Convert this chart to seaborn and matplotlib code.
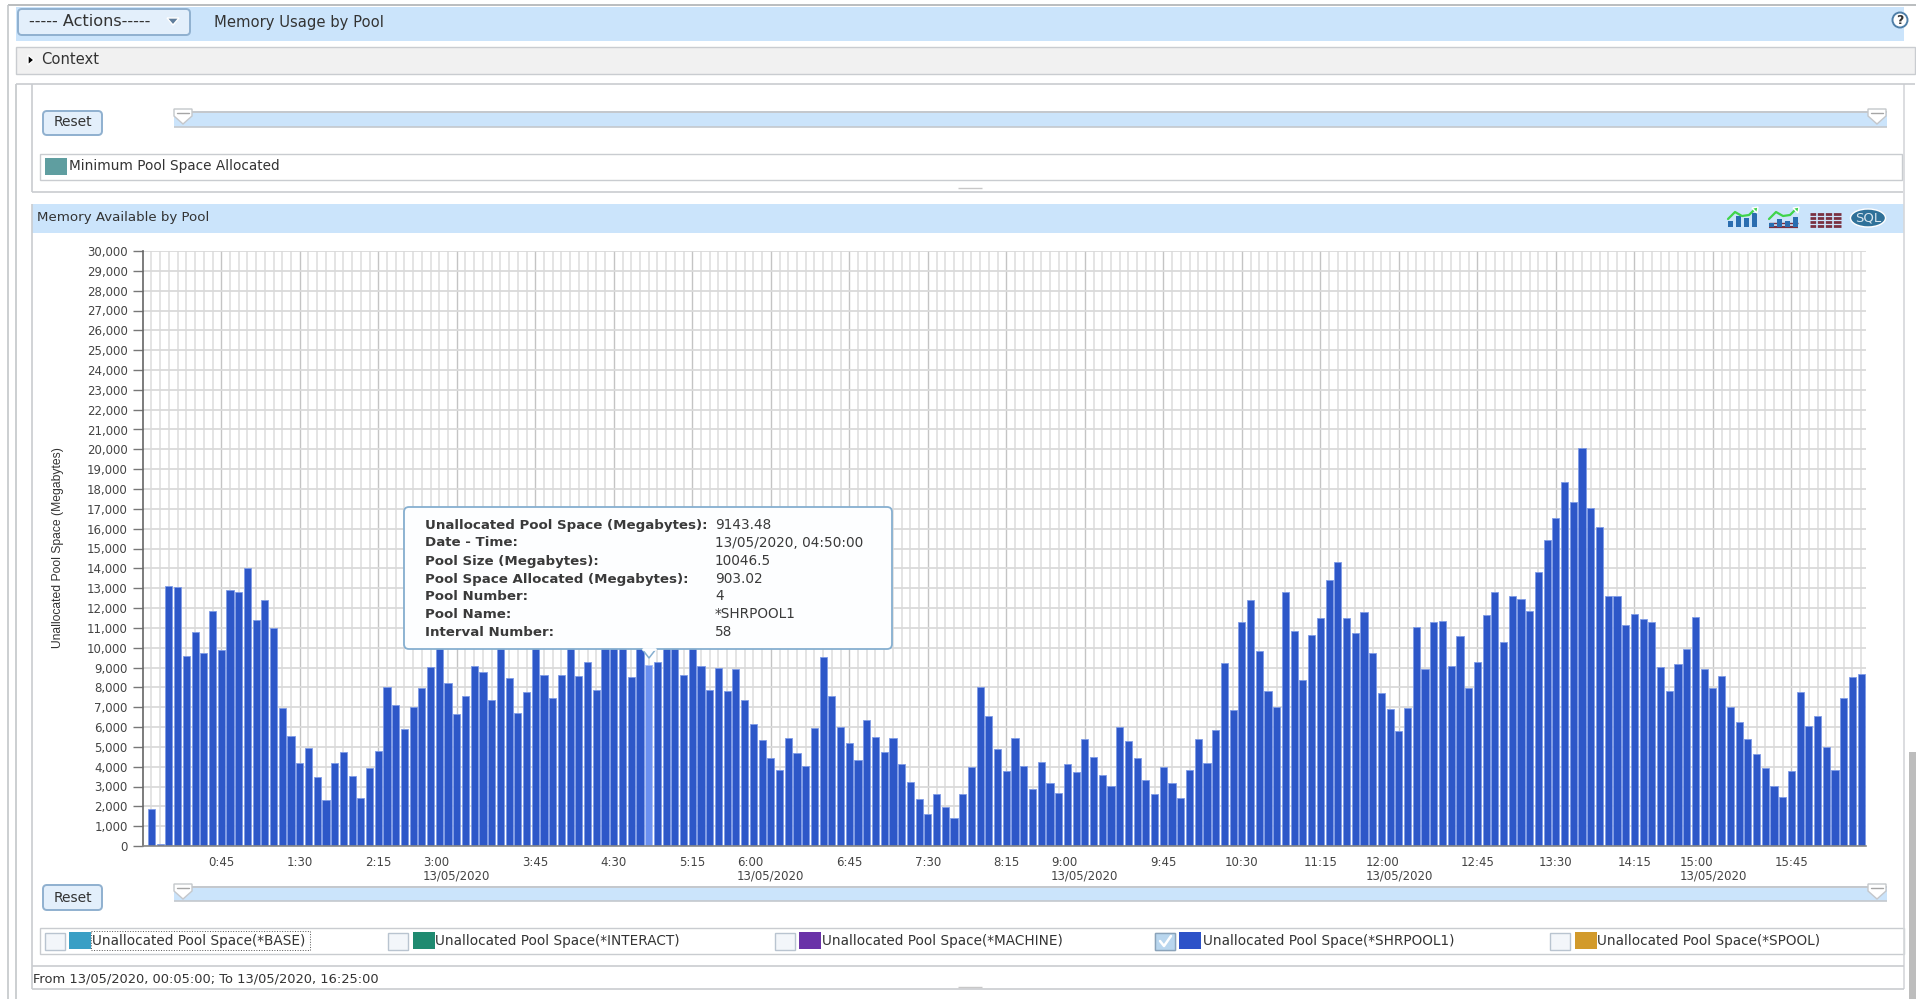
import matplotlib
matplotlib.use('Agg')
import matplotlib.pyplot as plt
from matplotlib.patches import Rectangle, FancyBboxPatch, Polygon, Ellipse, Circle
import pandas as pd
import seaborn as sns

# interval 1 = 00:05, one bar every 5 minutes up to 16:25
unallocated = [
    1880, 120, 13130, 13060, 9560, 10770, 9730, 11870, 9900, 12920,
    12820, 14020, 11400, 12400, 10970, 6970, 5560, 4180, 4920, 3460,
    2340, 4200, 4760, 3510, 2440, 3920, 4770, 8030, 7110, 5900,
    7010, 7980, 9040, 10200, 8220, 6650, 7560, 9080, 8760, 7380,
    10300, 8470, 6720, 7780, 10200, 8600, 7480, 8640, 10100, 8590,
    9280, 7870, 10400, 10600, 10300, 8520, 10100, 9143.48, 9300, 10300,
    10100, 8600, 10100, 9060, 7880, 8990, 7810, 8920, 7340, 6170,
    5330, 4450, 3810, 5460, 4700, 4030, 5970, 9530, 7580, 6020,
    5210, 4340, 6370, 5510, 4740, 5460, 4130, 3210, 2350, 1610,
    2600, 1950, 1430, 2600, 3980, 8030, 6550, 4870, 3800, 5460,
    4020, 2890, 4240, 3180, 2670, 4120, 3710, 5380, 4470, 3580,
    3040, 5980, 5310, 4420, 3310, 2600, 4000, 3190, 2420, 3850,
    5380, 4180, 5830, 9230, 6860, 11280, 12390, 9830, 7810, 6990,
    12810, 10820, 8350, 10620, 11510, 13430, 14320, 11500, 10720, 11780,
    9750, 7730, 6890, 5780, 6940, 11030, 8910, 11290, 11360, 9080,
    10570, 7970, 9260, 11630, 12820, 10270, 12620, 12470, 11850, 13800,
    15430, 16550, 18350, 17360, 20080, 17060, 16100, 12620, 12590, 11130,
    11680, 11430, 11310, 9010, 7800, 9190, 9920, 11530, 8920, 7980,
    8590, 7030, 6240, 5380, 4620, 3930, 3030, 2450, 3800, 7780,
    6030, 6540, 4970, 3820, 7480, 8540, 8670,
]
intervals = list(range(1, len(unallocated) + 1))
hovered = 58

tick_intervals = [9, 18, 27, 36, 45, 54, 63, 72, 81, 90, 99, 108, 117, 126, 135, 144, 153, 162, 171, 180, 189]
tick_labels = ['0:45', '1:30', '2:15', '3:00\n13/05/2020', '3:45', '4:30', '5:15', '6:00\n13/05/2020',
               '6:45', '7:30', '8:15', '9:00\n13/05/2020', '9:45', '10:30', '11:15', '12:00\n13/05/2020',
               '12:45', '13:30', '14:15', '15:00\n13/05/2020', '15:45']

tip_keys = ['Unallocated Pool Space (Megabytes):', 'Date - Time:', 'Pool Size (Megabytes):',
            'Pool Space Allocated (Megabytes):', 'Pool Number:', 'Pool Name:', 'Interval Number:']
tip_values = ['9143.48', '13/05/2020, 04:50:00', '10046.5', '903.02', '4', '*SHRPOOL1', '58']

legend_names = ['Unallocated Pool Space(*BASE)', 'Unallocated Pool Space(*INTERACT)',
                'Unallocated Pool Space(*MACHINE)', 'Unallocated Pool Space(*SHRPOOL1)',
                'Unallocated Pool Space(*SPOOL)']
legend_colors = ['#3a9fc5', '#1f8a70', '#6a32a8', '#2d52c8', '#d29a2b']

W, H = 1916, 999
BAND = '#cbe4fb'
LINE = '#c9ccd0'
TXT = '#333333'

sns.set_theme(style='white')
plt.rcParams['font.family'] = ['DejaVu Sans']
fig = plt.figure(figsize=(W / 100, H / 100), dpi=100, facecolor='white')

# background layer in pixel coordinates for the page around the chart
bg = fig.add_axes([0, 0, 1, 1], zorder=0)
bg.set_xlim(0, W)
bg.set_ylim(H, 0)
bg.axis('off')


def rect(x0, y0, x1, y1, fc='none', ec='none', lw=1.0, z=1, ax=bg):
    ax.add_patch(Rectangle((x0, y0), x1 - x0, y1 - y0, facecolor=fc, edgecolor=ec, linewidth=lw, zorder=z))


def hline(y, x0, x1, c=LINE, lw=1.2):
    bg.plot([x0, x1], [y, y], color=c, lw=lw, zorder=2, solid_capstyle='butt')


def vline(x, y0, y1, c=LINE, lw=1.2):
    bg.plot([x, x], [y0, y1], color=c, lw=lw, zorder=2, solid_capstyle='butt')


def button(x0, y0, x1, y1):
    bg.add_patch(FancyBboxPatch((x0 + 3, y0 + 3), x1 - x0 - 6, y1 - y0 - 6, boxstyle='round,pad=3,rounding_size=4',
                                facecolor='#e3effb', edgecolor='#8fb0cf', linewidth=1.4, zorder=3))


def slider(y0, y1):
    rect(174, y0 + 1, 1887, y1, fc=BAND, z=2)
    hline(y0, 174, 1887, c='#b9bec4')
    hline(y1, 174, 1887, c='#c4c8cd')
    for x in [183, 1877]:
        bg.add_patch(Polygon([(x - 9, y0 - 3), (x + 9, y0 - 3), (x + 9, y0 + 4), (x, y0 + 12), (x - 9, y0 + 4)],
                             closed=True, facecolor='white', edgecolor='#c4c7cb', linewidth=1, zorder=3))
        bg.plot([x - 6, x + 6], [y0 + 1, y0 + 1], color='#a5a5a5', lw=1, zorder=4)


# outer frames
hline(5, 8, W, c='#aeb1b4')
vline(8, 5, H, c='#c4c7ca')
vline(16, 84, H, c='#c4c7ca')
vline(32, 84, 192)
vline(32, 204, 989)
vline(1904, 84, 989, c='#d5d7da')
rect(1909, 752, W, H, fc='#bdbdbd')

# header
rect(16, 7, 1904, 41, fc=BAND)
button(18, 9, 190, 35)
bg.text(29, 22, '----- Actions-----', fontsize=11.6, color=TXT, va='center', zorder=4)
bg.add_patch(Polygon([(167, 18), (179, 18), (173, 25)], closed=True, facecolor='#5f7d9c', zorder=4))
bg.text(214, 23, 'Memory Usage by Pool', fontsize=10.6, color=TXT, va='center')
bg.add_patch(Circle((1900, 20), 7.5, facecolor='white', edgecolor='#4f7fa8', linewidth=1.4, zorder=3))
bg.text(1900, 20, '?', fontsize=9, fontweight='bold', color='#333333', ha='center', va='center', zorder=4)

# context band
rect(16, 47, 1915, 74, fc='#f1f1f1', ec=LINE)
bg.add_patch(Polygon([(28, 55), (28, 65), (34, 60)], closed=True, facecolor='black', zorder=3))
bg.text(41, 60, 'Context', fontsize=10.6, color=TXT, va='center')

# upper panel remains
hline(84, 16, 1915)
button(43, 111, 102, 135)
bg.text(72.5, 122.5, 'Reset', fontsize=10, color=TXT, ha='center', va='center', zorder=4)
slider(112, 127)
rect(40, 154, 1902, 180, ec=LINE)
rect(45, 158, 67, 175, fc='#5f9ea0')
bg.text(69, 166, 'Minimum Pool Space Allocated', fontsize=9.8, color=TXT, va='center')
hline(192, 32, 1903)
hline(188, 958, 982, c='#c8c8c8', lw=1)

# chart panel header
rect(32, 204, 1904, 233, fc=BAND)
bg.text(37, 217, 'Memory Available by Pool', fontsize=9.6, color=TXT, va='center')

# icons in the chart panel header
for x0 in [1728, 1769]:
    bars_h = [6, 11, 9, 14] if x0 == 1728 else [4, 8, 6, 10]
    for i, h in enumerate(bars_h):
        rect(x0 + i * 8, 227 - h, x0 + i * 8 + 5, 227, fc='#2a6db0', z=3)
    bg.plot([x0, x0 + 7, x0 + 14, x0 + 21, x0 + 28], [219, 212, 216, 215, 208], color='#3fd44a', lw=1.6, zorder=4)
    bg.add_patch(Polygon([(x0 + 24, 208), (x0 + 30, 207), (x0 + 29, 213)], closed=True, facecolor='#3fd44a', zorder=4))
    if x0 == 1769:
        hline(227, x0, x0 + 29, c='#7a3040', lw=1.6)
        hline(223, x0, x0 + 29, c='#7a3040', lw=1)
for y in [214, 218, 222, 226]:
    hline(y, 1810, 1841, c='#7a3040', lw=2)
for x in [1817, 1825, 1833]:
    vline(x, 212, 228, c=BAND, lw=1.2)
bg.add_patch(Ellipse((1868, 218), 35, 18, facecolor='#2f7199', zorder=3))
bg.text(1868, 218, 'SQL', fontsize=9.5, color='#d8e6ef', ha='center', va='center', zorder=4)

# bottom part of the chart panel
button(43, 885, 102, 910)
bg.text(72.5, 897.5, 'Reset', fontsize=10, color=TXT, ha='center', va='center', zorder=4)
slider(887, 901)
rect(40, 928, 1904, 954, ec=LINE)
box_x = [45, 388, 775, 1155, 1550]
swatch_x = [69, 413, 799, 1179, 1575]
text_x = [92, 435, 822, 1203, 1597]
for bx, sx, tx, name, col in zip(box_x, swatch_x, text_x, legend_names, legend_colors):
    rect(bx, 933, bx + 20, 950, fc='#f3f6fa', ec='#b9c4d0', z=3)
    rect(sx, 932, sx + 22, 949, fc=col, z=3)
    bg.text(tx, 941.5, name, fontsize=9.8, color=TXT, va='center', zorder=4)
# SHRPOOL1 is the ticked one
rect(box_x[3], 933, box_x[3] + 20, 950, fc='#b9d6ee', ec='#8aa3ba', z=3)
bg.plot([1160, 1164, 1171], [941, 946, 936], color='white', lw=1.8, zorder=4)
rect(91, 931, 310, 950, ec='#555555', lw=0.7, z=4)
bg.patches[-1].set_linestyle(':')
hline(966, 32, 1904)
bg.text(33, 979, 'From 13/05/2020, 00:05:00; To 13/05/2020, 16:25:00', fontsize=9.4, color=TXT, va='center')
hline(989, 32, 1904)
hline(987, 958, 982, c='#c8c8c8', lw=1)

# the chart itself
px_left, px_right, px_top, px_bottom = 143, 1866, 251, 846
ax = fig.add_axes([px_left / W, 1 - px_bottom / H, (px_right - px_left) / W, (px_bottom - px_top) / H],
                  zorder=1, facecolor='white')
df = pd.DataFrame({'interval': intervals, 'unallocated': unallocated})
sns.barplot(data=df, x='interval', y='unallocated', color='#2d57c8', saturation=1, width=0.82,
            edgecolor='#7f9be6', linewidth=0.6, ax=ax)
ax.patches[hovered - 1].set_facecolor('#6a8ff0')
ax.patches[hovered - 1].set_edgecolor('#a9bef5')

ax.set_xlim(-0.97, 196.55)
ax.set_ylim(0, 30000)
ax.set_yticks(list(range(0, 30001, 1000)))
ax.set_yticklabels([f'{v:,}' for v in range(0, 30001, 1000)], fontsize=8.5, color='#444444')
ax.set_xticks([i - 1 for i in tick_intervals])
ax.set_xticklabels(tick_labels, fontsize=8.5, color='#444444', linespacing=1.1)
for lab in ax.get_xticklabels():
    lab.set_multialignment('left')
ax.set_xticks(range(len(intervals)), minor=True)
ax.set_axisbelow(True)
ax.grid(True, which='major', axis='y', color='#dadada', lw=1.3)
ax.grid(True, which='minor', axis='x', color='#e2e2e2', lw=1.3)
ax.grid(True, which='major', axis='x', color='#c4c4c4', lw=1.0)
ax.tick_params(axis='y', which='major', length=7, width=1, color='#777777', pad=4, left=True)
ax.tick_params(axis='x', which='major', length=0, pad=7)
ax.tick_params(axis='x', which='minor', length=0)
sns.despine(ax=ax, top=True, right=True)
ax.spines['left'].set_color('#666666')
ax.spines['left'].set_linewidth(1.2)
ax.spines['bottom'].set_color('#888888')
ax.spines['bottom'].set_linewidth(1.2)
ax.set_xlabel('')
ax.set_ylabel('')
bg.text(58, 548, 'Unallocated Pool Space (Megabytes)', fontsize=8.7, family='Liberation Sans', color=TXT,
        rotation=90, ha='center', va='center')

# hover tooltip on top of the bars
top = fig.add_axes([0, 0, 1, 1], zorder=2)
top.set_xlim(0, W)
top.set_ylim(H, 0)
top.axis('off')
top.patch.set_alpha(0)
top.add_patch(FancyBboxPatch((408, 511), 480, 134, boxstyle='round,pad=4,rounding_size=5',
                             facecolor='#fdfeff', edgecolor='#86afd0', linewidth=1.3, zorder=3))
top.add_patch(Polygon([(642, 649), (649, 658), (656, 649)], closed=True, facecolor='#fdfeff',
                      edgecolor='#86afd0', linewidth=1.1, zorder=3))
top.plot([643, 655], [649, 649], color='#fdfeff', lw=2, zorder=4)
tip_y = [525, 543, 561, 579, 596, 614, 632]
for y, k, v in zip(tip_y, tip_keys, tip_values):
    top.text(425, y, k, fontsize=9.6, fontweight='bold', color='#3a3a3a', va='center', zorder=5)
    top.text(715, y, v, fontsize=9.8, color='#3a3a3a', va='center', zorder=5)

fig.savefig('out.png', dpi=100)
